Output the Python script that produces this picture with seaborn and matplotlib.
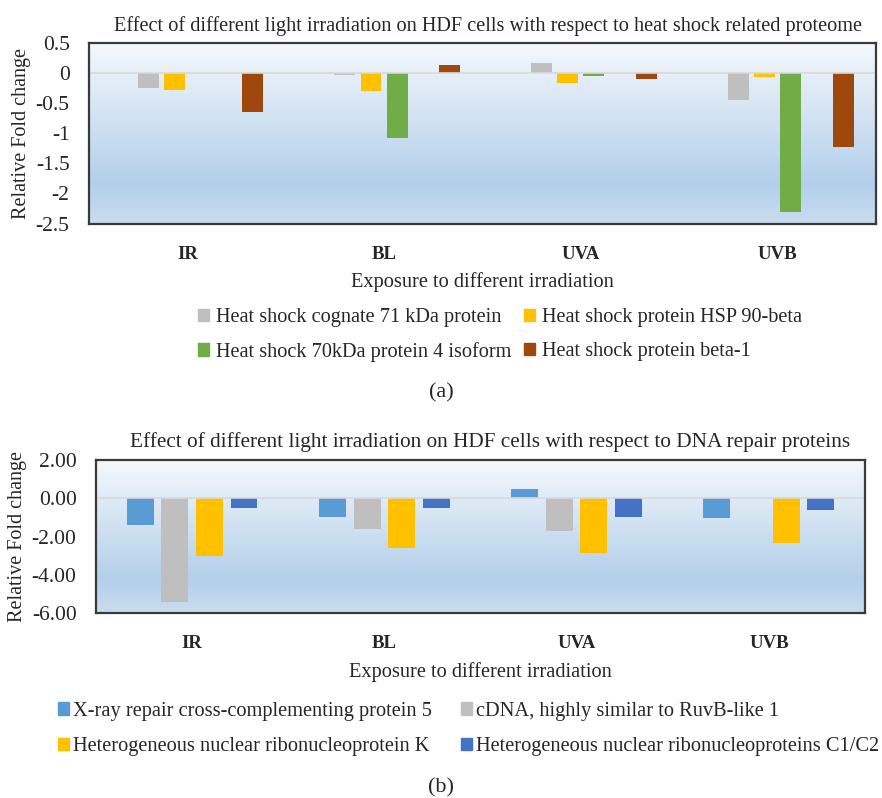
import numpy as np
import pandas as pd
import matplotlib
matplotlib.use("Agg")
import matplotlib.pyplot as plt
import matplotlib.patches as mpatches
from matplotlib.colors import LinearSegmentedColormap
import seaborn as sns

# exposures on the x axis
exposures = ["IR", "BL", "UVA", "UVB"]

# (a) heat shock related proteome
hs_names = [
    "Heat shock cognate 71 kDa protein",
    "Heat shock protein HSP 90-beta",
    "Heat shock 70kDa protein 4 isoform",
    "Heat shock protein beta-1",
]
hs_cognate71 = [-0.25, -0.03, 0.17, -0.44]
hs_hsp90b = [-0.28, -0.29, -0.17, -0.06]
hs_70kda4 = [np.nan, -1.08, -0.045, -2.31]
hs_beta1 = [-0.65, 0.13, -0.09, -1.22]
hs_colors = ["#BFBFBF", "#FFC000", "#70AD47", "#9E480E"]

# (b) DNA repair proteins
dna_names = [
    "X-ray repair cross-complementing protein 5",
    "cDNA, highly similar to RuvB-like 1",
    "Heterogeneous nuclear ribonucleoprotein K",
    "Heterogeneous nuclear ribonucleoproteins C1/C2",
]
dna_xrcc5 = [-1.37, -0.97, 0.51, -1.03]
dna_ruvb1 = [-5.43, -1.61, -1.71, np.nan]
dna_hnrnpk = [-3.03, -2.57, -2.83, -2.32]
dna_hnrnpc = [-0.50, -0.53, -1.00, -0.60]
dna_colors = ["#5B9BD5", "#BFBFBF", "#FFC000", "#4472C4"]


def make_frame(names, series):
    rows = []
    for name, vals in zip(names, series):
        for ex, v in zip(exposures, vals):
            rows.append({"exposure": ex, "protein": name, "value": v})
    return pd.DataFrame(rows)


def gradient_bg(fig, rect):
    bg = fig.add_axes(rect, zorder=0)
    cmap = LinearSegmentedColormap.from_list(
        "bg", [(0.0, "#F5F8FC"), (0.78, "#B3CFEA"), (1.0, "#CADDF0")]
    )
    grad = np.linspace(0, 1, 256).reshape(-1, 1)
    bg.imshow(grad, aspect="auto", cmap=cmap, extent=[0, 1, 0, 1], origin="upper")
    bg.set_axis_off()
    return bg


def style_axes(ax, ylim, yticks, fmt, title, title_size, title_x):
    ax.set_facecolor("none")
    ax.set_ylim(*ylim)
    ax.set_xlim(-0.5, 3.5)
    ax.set_yticks(yticks)
    ax.set_yticklabels([fmt(t) for t in yticks], fontsize=15.5)
    ax.axhline(0, color="#D9D9D9", lw=1.2, zorder=1)
    ax.tick_params(axis="both", length=0)
    ax.tick_params(axis="y", pad=14)
    for lab in ax.get_xticklabels():
        lab.set_fontweight("bold")
        lab.set_fontsize(13.5)
    ax.tick_params(axis="x", pad=16)
    for s in ax.spines.values():
        s.set_visible(True)
        s.set_color("#3A3A3A")
        s.set_linewidth(1.6)
    ax.set_xlabel("Exposure to different irradiation", fontsize=14.7, labelpad=7)
    ax.set_ylabel("Relative Fold change", fontsize=14.5, labelpad=3)
    ax.set_title(title, fontsize=title_size, pad=9, x=title_x)


def legend_handles(names, colors):
    h = [mpatches.Patch(color=c, label=n) for n, c in zip(names, colors)]
    # row-wise fill for ncol=2
    return [h[0], h[2], h[1], h[3]]


def main():
    sns.set_theme(style="white")
    plt.rcParams["font.family"] = ["Liberation Serif", "DejaVu Serif"]
    plt.rcParams["axes.unicode_minus"] = False

    fig = plt.figure(figsize=(8.82, 7.98), dpi=100)

    # ---- (a)
    rect_a = [0.1009, 0.7199, 0.8923, 0.2262]
    gradient_bg(fig, rect_a)
    ax1 = fig.add_axes(rect_a, zorder=1)
    df_a = make_frame(hs_names, [hs_cognate71, hs_hsp90b, hs_70kda4, hs_beta1])
    order_a = ["_gap1"] + hs_names[:3] + ["_gap2"] + hs_names[3:]
    pal_a = ["#FFFFFF"] + hs_colors[:3] + ["#FFFFFF"] + hs_colors[3:]
    sns.barplot(
        data=df_a, x="exposure", y="value", hue="protein",
        order=exposures, hue_order=order_a, palette=pal_a,
        width=0.8, gap=0.2, errorbar=None, legend=False,
        linewidth=0, saturation=1, ax=ax1,
    )
    style_axes(
        ax1, (-2.5, 0.5), [0.5, 0, -0.5, -1, -1.5, -2, -2.5],
        lambda t: f"{t:g}",
        "Effect of different light irradiation on HDF cells with respect to heat shock related proteome",
        14.6, 0.507,
    )
    fig.legend(
        handles=legend_handles(hs_names, hs_colors), ncol=2,
        loc="center", bbox_to_anchor=(0.567, 1 - 335 / 798), frameon=False,
        fontsize=14.6, handlelength=0.55, handleheight=0.55, handletextpad=0.35,
        columnspacing=0.6, labelspacing=0.72,
    )
    fig.text(0.5, 1 - 393 / 798, "(a)", ha="center", va="center", fontsize=16)

    # ---- (b)
    rect_b = [0.1088, 0.2315, 0.8719, 0.1921]
    gradient_bg(fig, rect_b)
    ax2 = fig.add_axes(rect_b, zorder=1)
    df_b = make_frame(dna_names, [dna_xrcc5, dna_ruvb1, dna_hnrnpk, dna_hnrnpc])
    sns.barplot(
        data=df_b, x="exposure", y="value", hue="protein",
        order=exposures, hue_order=dna_names, palette=dna_colors,
        width=0.72, gap=0.22, errorbar=None, legend=False,
        linewidth=0, saturation=1, ax=ax2,
    )
    style_axes(
        ax2, (-6, 2), [2, 0, -2, -4, -6],
        lambda t: f"{t:.2f}",
        "Effect of different light irradiation on HDF cells with respect to DNA repair proteins",
        15.3, 0.513,
    )
    fig.legend(
        handles=legend_handles(dna_names, dna_colors), ncol=2,
        loc="center", bbox_to_anchor=(0.531, 1 - 729 / 798), frameon=False,
        fontsize=14.7, handlelength=0.55, handleheight=0.55, handletextpad=0.2,
        columnspacing=1.4, labelspacing=0.8,
    )
    fig.text(0.5, 1 - 788 / 798, "(b)", ha="center", va="center", fontsize=16)

    fig.savefig("out.png", dpi=100)
    plt.close(fig)


if __name__ == "__main__":
    main()
